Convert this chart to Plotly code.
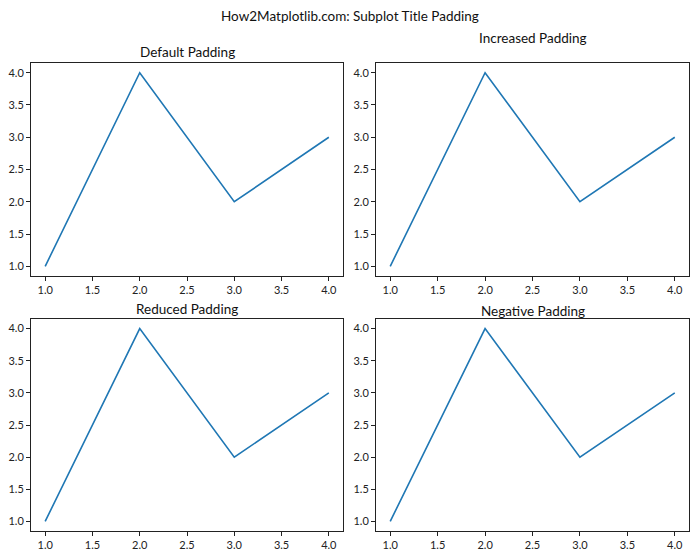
import plotly.graph_objects as go

x_vals = [1, 2, 3, 4]
y_vals = [1, 4, 2, 3]
titles = ["Default Padding", "Increased Padding", "Reduced Padding", "Negative Padding"]
suptitle = "How2Matplotlib.com: Subplot Title Padding"
tick_vals = [1.0, 1.5, 2.0, 2.5, 3.0, 3.5, 4.0]

W, H = 700, 560
FONT = "Lato"

# pixel boxes (left, right, top, bottom)
boxes = [(31, 343, 63, 276), (376, 689, 63, 276), (31, 343, 319, 531), (376, 689, 319, 531)]
title_y = [52, 38, 309, 311]

fig = go.Figure()
layout = {}
annotations = []
for i, (l, r, t, b) in enumerate(boxes):
    n = "" if i == 0 else str(i + 1)
    fig.add_trace(go.Scatter(x=x_vals, y=y_vals, mode="lines",
                             line=dict(color="#1f77b4", width=1.6),
                             xaxis="x" + n, yaxis="y" + n, showlegend=False))
    common = dict(showline=True, linecolor="#222", linewidth=1, mirror=True,
                  ticks="outside", ticklen=4, tickcolor="#222", showgrid=False,
                  zeroline=False, tickvals=tick_vals, tickformat=".1f",
                  range=[0.85, 4.15], tickfont=dict(family=FONT, size=11, color="#222"))
    layout["xaxis" + n] = dict(domain=[l / W, r / W], anchor="y" + n, **common)
    layout["yaxis" + n] = dict(domain=[(H - b) / H, (H - t) / H], anchor="x" + n, **common)
    annotations.append(dict(text=titles[i], x=(l + r) / 2 / W, y=(H - title_y[i]) / H,
                            xref="paper", yref="paper", xanchor="center", yanchor="middle",
                            showarrow=False, font=dict(family=FONT, size=13.5, color="#111")))

annotations.append(dict(text=suptitle, x=0.5, y=(H - 16) / H, xref="paper", yref="paper",
                        xanchor="center", yanchor="middle", showarrow=False,
                        font=dict(family=FONT, size=13.5, color="#111")))

fig.update_layout(width=W, height=H, margin=dict(l=0, r=0, t=0, b=0),
                  plot_bgcolor="white", paper_bgcolor="white",
                  annotations=annotations, **layout)
fig.write_html("out.html", config={"displayModeBar": False},
               post_script="document.body.style.margin='0px';")
